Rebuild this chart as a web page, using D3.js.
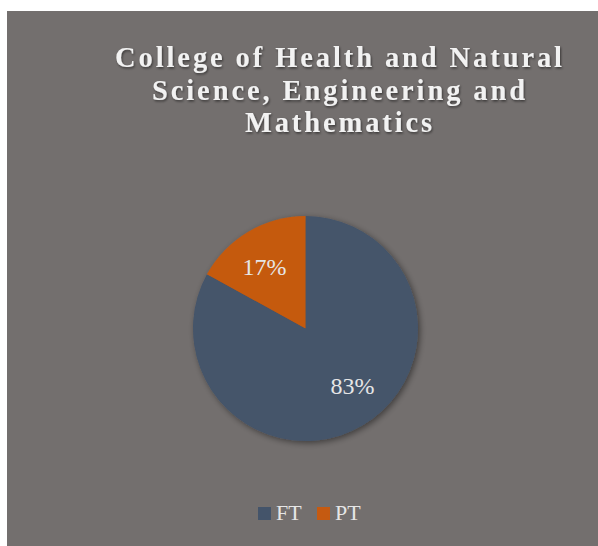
<!DOCTYPE html>
<html>
<head>
<meta charset="utf-8">
<script src="https://cdn.jsdelivr.net/npm/d3@7"></script>
<style>
  html, body { margin: 0; padding: 0; background: #fff; }
  svg { display: block; }
  .title { font-family: "Liberation Serif", "DejaVu Serif", serif; font-weight: bold; font-size: 28.5px; letter-spacing: 2.9px; fill: #f2f2f2; }
  .slice-label { font-family: "Liberation Serif", "DejaVu Serif", serif; font-size: 24px; fill: #e6e6e6; }
  .legend-label { font-family: "Liberation Serif", "DejaVu Serif", serif; font-size: 22px; fill: #e6e6e6; }
</style>
</head>
<body>
<div id="chart"></div>
<script>
// ---------- DATA ----------
const categories = ["FT", "PT"];
const shares = [83, 17];
const colors = ["#44546a", "#c55a11"];
const titleLines = ["College of Health and Natural", "Science, Engineering and", "Mathematics"];

// ---------- CHART ----------
const W = 598, H = 546;
const svg = d3.select("#chart").append("svg").attr("width", W).attr("height", H);

const defs = svg.append("defs");
const shadow = defs.append("filter").attr("id", "shadow")
  .attr("x", "-20%").attr("y", "-20%").attr("width", "140%").attr("height", "140%");
shadow.append("feDropShadow").attr("dx", 2).attr("dy", 2).attr("stdDeviation", 3)
  .attr("flood-color", "#000").attr("flood-opacity", 0.45);
const textShadow = defs.append("filter").attr("id", "tshadow");
textShadow.append("feDropShadow").attr("dx", 1).attr("dy", 1.5).attr("stdDeviation", 1)
  .attr("flood-color", "#000").attr("flood-opacity", 0.5);

// panel
svg.append("rect").attr("x", 7).attr("y", 11).attr("width", 591).attr("height", 535).attr("fill", "#736f6e");

// title
svg.append("text").attr("class", "title").attr("text-anchor", "middle")
  .attr("filter", "url(#tshadow)")
  .selectAll("tspan").data(titleLines).join("tspan")
  .attr("x", 340).attr("y", (d, i) => 67 + i * 32.5)
  .text(d => d);

// pie
const cx = 305.5, cy = 328.5, r = 112.5;
const data = categories.map((c, i) => ({ cat: c, value: shares[i], color: colors[i] }));
const pie = d3.pie().sort(null).value(d => d.value);
const arc = d3.arc().innerRadius(0).outerRadius(r);

const g = svg.append("g").attr("transform", `translate(${cx},${cy})`);
g.append("g").attr("filter", "url(#shadow)")
  .selectAll("path").data(pie(data)).join("path")
  .attr("d", arc).attr("fill", d => d.data.color);

g.selectAll(".slice-label").data(pie(data)).join("text")
  .attr("class", "slice-label").attr("text-anchor", "middle")
  .attr("transform", d => {
    const [x, y] = d.data.cat === "FT" ? [47, 57] : [-41, -62];
    return `translate(${x},${y})`;
  })
  .attr("dy", "0.35em")
  .text(d => d.data.value + "%");

// legend
const legend = svg.append("g").attr("transform", "translate(258,507)");
const item = legend.selectAll("g").data(data).join("g")
  .attr("transform", (d, i) => `translate(${i * 59},0)`);
item.append("rect").attr("width", 13).attr("height", 13).attr("fill", d => d.color);
item.append("text").attr("class", "legend-label").attr("x", 18).attr("y", 13).text(d => d.cat);
</script>
</body>
</html>
